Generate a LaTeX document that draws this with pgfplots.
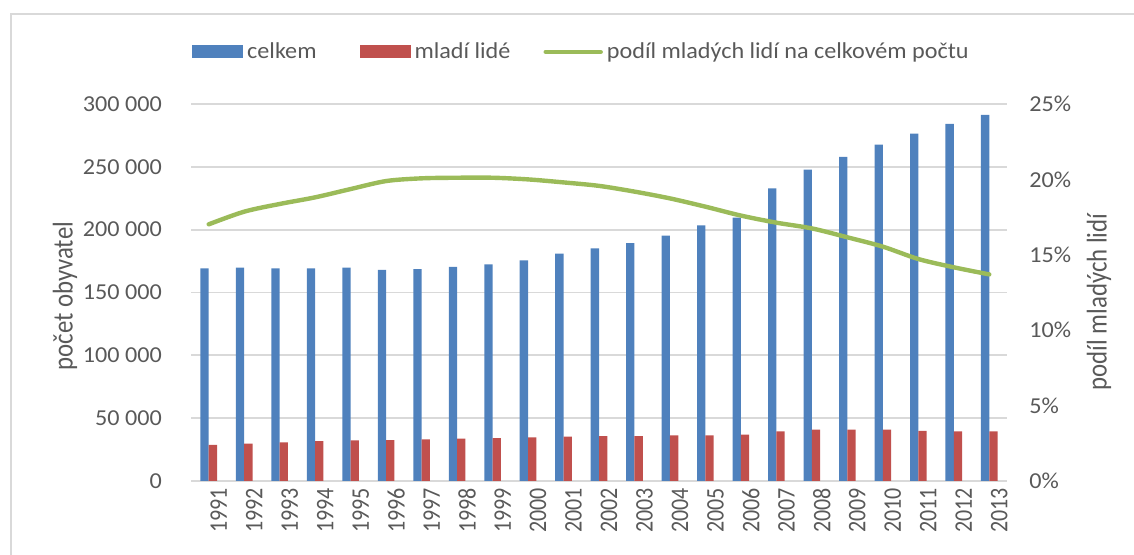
\documentclass[border=0pt]{standalone}
\usepackage{pgfplots}
\pgfplotsset{compat=1.18}
\usepackage{pgfplotstable}
\usepackage{graphicx}
\usepackage{fontspec}
\setmainfont{Carlito}
\newfontfamily\hfont{Carlito}[FakeStretch=1.06]
\definecolor{barBlue}{HTML}{4F81BD}
\definecolor{barRed}{HTML}{C0504D}
\definecolor{lineGreen}{HTML}{9BBB59}
\definecolor{gridGray}{HTML}{D9D9D9}
\definecolor{txtGray}{HTML}{595959}
\newcommand\yr[1]{\scalebox{1}[1.15]{#1}}

% x = 0..22 stands for 1991..2013
\pgfplotstableread{
x  celkem mladi podil
0  169250 28650 17.02
1  169800 29700 17.86
2  169250 30800 18.37
3  169250 31800 18.81
4  169800 32400 19.36
5  167900 32600 19.89
6  168500 33200 20.07
7  170300 33700 20.11
8  172400 34200 20.11
9  175600 34800 20.00
10 180900 35300 19.80
11 185200 35800 19.57
12 189200 35800 19.19
13 195300 36300 18.74
14 203500 36300 18.19
15 209600 36900 17.60
16 232900 39500 17.13
17 247800 40900 16.75
18 257900 40900 16.16
19 267700 40900 15.54
20 276400 39800 14.72
21 284100 39500 14.17
22 291300 39500 13.70
}\datatable

\pgfplotsset{
  common/.style={
    scale only axis, width=408pt, height=188.5pt,
    at={(95.5pt,37pt)}, anchor=south west,
    xmin=-0.5, xmax=22.5,
    tick style={draw=none}, major tick length=0pt,
    scaled y ticks=false,
    yticklabel style={font=\hfont\fontsize{11.4}{13.6}\selectfont, text=txtGray},
  },
}

\begin{document}
\begin{tikzpicture}
\path[use as bounding box] (0,0) rectangle (567pt,277.5pt);
\draw[gridGray, line width=0.7pt] (5.5pt,-2pt) -- (5.5pt,270.5pt) -- (570pt,270.5pt);

\begin{axis}[common,
  ybar=0pt, bar width=4.15pt,
  ymin=0, ymax=300000,
  ytick={0,50000,100000,150000,200000,250000,300000},
  yticklabels={0,50 000,100 000,150 000,200 000,250 000,300 000},
  xtick={0,...,22},
  xticklabels={\yr{1991},\yr{1992},\yr{1993},\yr{1994},\yr{1995},\yr{1996},\yr{1997},\yr{1998},\yr{1999},\yr{2000},\yr{2001},\yr{2002},\yr{2003},\yr{2004},\yr{2005},\yr{2006},\yr{2007},\yr{2008},\yr{2009},\yr{2010},\yr{2011},\yr{2012},\yr{2013}},
  xticklabel style={rotate=90, anchor=east, yshift=-5pt,
    font=\fontsize{11}{13}\selectfont, text=txtGray},
  yticklabel style={xshift=-11pt},
  axis x line*=bottom, axis y line*=left,
  y axis line style={draw=none},
  x axis line style={draw=gridGray, line width=0.9pt, -},
  ymajorgrids, grid style={gridGray, line width=0.9pt},
  ylabel={\yr{počet obyvatel}},
  every axis y label/.style={at={(axis description cs:-0.1544,0.49)}, rotate=90, anchor=center,
    font=\fontsize{12.4}{14.5}\selectfont, text=txtGray},
  legend columns=3,
  legend style={at={(axis description cs:0.001,1.138)}, anchor=west, draw=none, fill=none,
    inner sep=0pt, font=\hfont\fontsize{11.4}{13.6}\selectfont, text=txtGray,
    /tikz/column 2/.style={column sep=19.5pt},
    /tikz/column 4/.style={column sep=14.5pt}},
]
\addplot[fill=barBlue, draw=none,
  legend image code/.code={\fill[barBlue] (0pt,-3.25pt) rectangle (25.5pt,3.25pt);}]
  table[x=x, y=celkem] {\datatable};
\addlegendentry{celkem}
\addplot[fill=barRed, draw=none,
  legend image code/.code={\fill[barRed] (0pt,-3.25pt) rectangle (25.5pt,3.25pt);}]
  table[x=x, y=mladi] {\datatable};
\addlegendentry{mladí lidé}
\addlegendimage{legend image code/.code={\draw[lineGreen, line width=2.2pt, line cap=round] (0.5pt,0pt) -- (28pt,0pt);}}
\addlegendentry{podíl mladých lidí na celkovém počtu}
\end{axis}

\begin{axis}[common,
  ymin=0, ymax=25,
  ytick={0,5,10,15,20,25},
  yticklabels={0\%,5\%,10\%,15\%,20\%,25\%},
  axis y line*=right, axis x line=none,
  y axis line style={draw=none},
  yticklabel style={xshift=7.7pt},
  ylabel={\yr{podíl mladých lidí}},
  every axis y label/.style={at={(axis description cs:1.1127,0.475)}, rotate=90, anchor=center,
    font=\fontsize{12.4}{14.5}\selectfont, text=txtGray},
]
\addplot[lineGreen, line width=2.2pt, smooth, tension=0.5, line cap=round, line join=round]
  table[x=x, y=podil] {\datatable};
\end{axis}
\end{tikzpicture}
\end{document}
